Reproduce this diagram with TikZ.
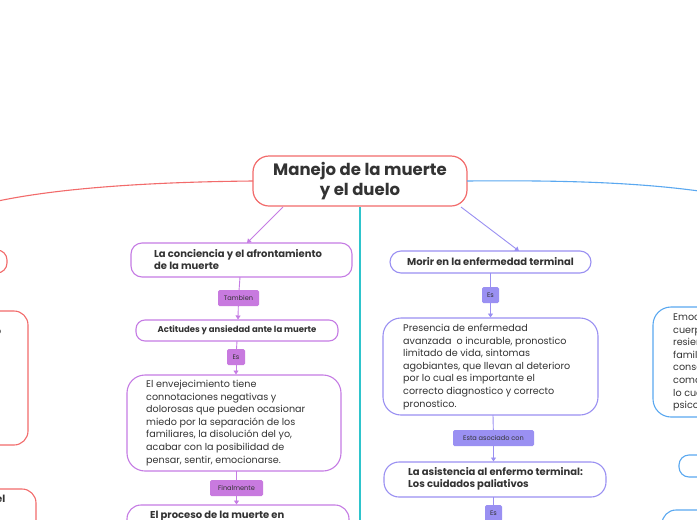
\documentclass[tikz,border=0pt]{standalone}
\usepackage{fontspec}
\setmainfont{Poppins}
\usetikzlibrary{arrows.meta}
\definecolor{rd}{HTML}{F26B6B}
\definecolor{bl}{HTML}{5AA8F0}
\definecolor{pu}{HTML}{C57CE4}
\definecolor{pufill}{HTML}{C87ADF}
\definecolor{lv}{HTML}{9A90F2}
\definecolor{cy}{HTML}{2EC4CC}
\definecolor{tx}{HTML}{333333}
\tikzset{
  x=1pt,y=-1pt,
  box/.style={draw,line width=1.1pt,rounded corners=11pt},
  lab/.style={rounded corners=1.5pt,font=\fontsize{6.6}{8}\selectfont,inner sep=0pt},
  bt/.style={text=tx,font=\bfseries\fontsize{10}{12.5}\selectfont,align=left,anchor=north west,inner sep=0pt},
  nt/.style={text=tx,font=\fontsize{9.6}{12.6}\selectfont,align=left,anchor=north west,inner sep=0pt},
  arr/.style={-{Triangle[length=4pt,width=5pt]},line width=0.9pt},
}
\begin{document}
\begin{tikzpicture}
\useasboundingbox (0,0) rectangle (697,520);
\clip (0,0) rectangle (697,520);
\fill[white] (0,0) rectangle (697,520);
% root
\draw[rd,line width=1.2pt,rounded corners=16pt] (253,156) rectangle (467,206);
\node[text=tx,font=\bfseries\fontsize{16.5}{20}\selectfont,align=center] (root) at (360,181) {Manejo de la muerte\\y el duelo};
\coordinate (rl) at (253,181); \coordinate (rr) at (467,181);
\draw[rd,line width=1.1pt] (rl) .. controls (150,182) and (60,188) .. (-2,201);
\draw[bl,line width=1.1pt] (rr) .. controls (570,180) and (640,183) .. (699,191);
\draw[cy,line width=1.1pt] (360,207) -- (360,522);
% left branch
\draw[pu,box] (131,243) rectangle (352,277);
\node[bt] (A) at (154,249) {La conciencia y el afrontamiento\\de la muerte};
\coordinate (at) at (247,243);
\draw[pu,arr] (283,207) -- (at);
\node[lab,fill=pufill,text=tx,minimum width=41pt,minimum height=16pt] (l1) at (238.5,298) {Tambien};
\draw[pu,line width=0.9pt] (240,277) -- (l1);
\draw[pu,box,rounded corners=9pt] (136,320) rectangle (338,341);
\node[text=tx,font=\bfseries\fontsize{8.5}{10}\selectfont] (B) at (237,330.5) {Actitudes y ansiedad ante la muerte};
\draw[pu,arr] (l1) -- (238,319.5);
\node[lab,fill=pufill,text=tx,minimum width=18pt,minimum height=16pt] (l2) at (236,357) {Es};
\draw[pu,line width=0.9pt] (237,341) -- (l2);
\draw[pu,box,rounded corners=18pt] (127,375) rectangle (341,471);
\node[nt] (C) at (146,380) {El envejecimiento tiene\\connotaciones negativas y\\dolorosas que pueden ocasionar\\miedo por la separación de los\\familiares, la disolución del yo,\\acabar con la posibilidad de\\pensar, sentir, emocionarse.};
\draw[pu,arr] (l2) -- (236,374.5);
\node[lab,fill=pufill,text=tx,minimum width=53pt,minimum height=16pt] (l3) at (236.5,488) {Finalmente};
\draw[pu,line width=0.9pt] (236.5,471) -- (l3);
\draw[pu,box,rounded corners=14pt] (127,505) rectangle (349,545);
\node[bt] (D) at (150,511) {El proceso de la muerte en};
\draw[pu,arr] (l3) -- (236.5,504.5);
% right branch
\draw[lv,box] (390,251) rectangle (591,273);
\node[text=tx,font=\bfseries\fontsize{10}{12}\selectfont] (E) at (490.5,262) {Morir en la enfermedad terminal};
\draw[lv,arr] (461,207) -- (519,251);
\node[lab,fill=lv,text=tx,minimum width=17pt,minimum height=16pt] (l4) at (490.5,295) {Es};
\draw[lv,line width=0.9pt] (490.5,273) -- (l4);
\draw[lv,box,rounded corners=18pt] (383,318) rectangle (598,415);
\node[nt] (F) at (403,324) {Presencia de enfermedad\\avanzada\ \ o incurable, pronostico\\limitado de vida, sintomas\\agobiantes, que llevan al deterioro\\por lo cual es importante el\\correcto diagnostico y correcto\\pronostico.};
\draw[lv,arr] (l4) -- (490.5,317.5);
\node[lab,fill=lv,text=tx,minimum width=81pt,minimum height=16pt] (l5) at (493.5,438) {Esta asociado con};
\draw[lv,line width=0.9pt] (493,415) -- (l5);
\draw[lv,box,rounded corners=15pt] (384,462) rectangle (606,497);
\node[bt] (G) at (408,467) {La asistencia al enfermo terminal:\\Los cuidados paliativos};
\draw[lv,arr] (l5) -- (493.5,461.5);
\node[lab,fill=lv,text=tx,minimum width=17pt,minimum height=16pt] (l6) at (493.5,513) {Es};
\draw[lv,line width=0.9pt] (493.5,497) -- (l6);
% left partial (red)
\draw[rd,box,rounded corners=10pt] (-40,250) rectangle (7,273);
\draw[rd,box,rounded corners=14pt] (-60,311) rectangle (28,445);
\node[nt] at (-5,329) {o};
\node[nt] at (-3,405) {,};
\draw[rd,box,rounded corners=14pt] (-60,489) rectangle (36,540);
\node[bt] at (-4,495) {el};
% right partial (blue)
\draw[bl,box,rounded corners=18pt] (653,307) rectangle (760,417);
\node[nt] at (673,313) {Emociones\\cuerpo\\resiencia\\familia\\consecuencias\\como\\lo cual\\psicologico};
\draw[bl,box,rounded corners=10pt] (679,455) rectangle (760,477);
\draw[bl,box,rounded corners=14pt] (662,510) rectangle (760,560);
\end{tikzpicture}
\end{document}
